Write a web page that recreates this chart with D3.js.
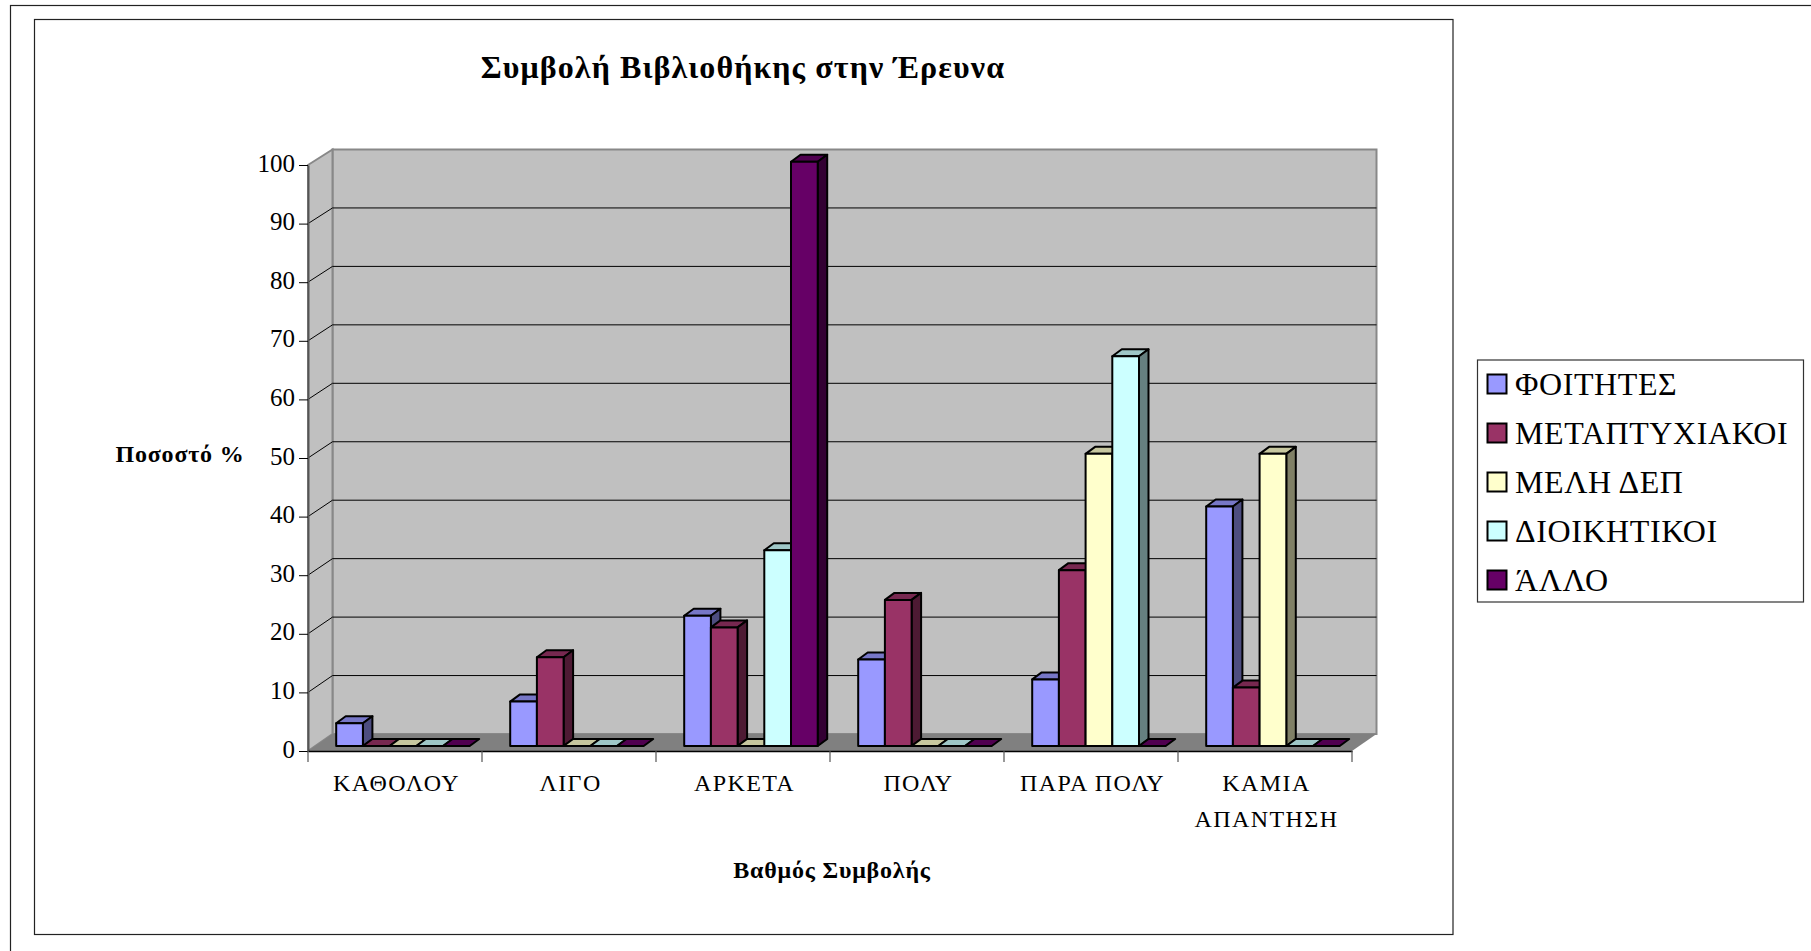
<!DOCTYPE html>
<html>
<head>
<meta charset="utf-8">
<script src="https://cdn.jsdelivr.net/npm/d3@7"></script>
<style>
    html, body { margin: 0; padding: 0; background: #fff; overflow: hidden; }
    svg { display: block; }
    text { font-family: "Liberation Serif", serif; fill: #000; }
</style>
</head>
<body>
<script>
var categories = [['ΚΑΘΟΛΟΥ'], ['ΛΙΓΟ'], ['ΑΡΚΕΤΑ'], ['ΠΟΛΥ'], ['ΠΑΡΑ ΠΟΛΥ'], ['ΚΑΜΙΑ', 'ΑΠΑΝΤΗΣΗ']];
var seriesNames = ['ΦΟΙΤΗΤΕΣ', 'ΜΕΤΑΠΤΥΧΙΑΚΟΙ', 'ΜΕΛΗ ΔΕΠ', 'ΔΙΟΙΚΗΤΙΚΟΙ', 'ΆΛΛΟ'];
var seriesColors = ['#9999ff', '#993366', '#ffffcc', '#ccffff', '#660066'];

var foitites = [3.9, 7.6, 22.3, 14.8, 11.4, 41];
var metaptyxiakoi = [0, 15.2, 20.3, 25, 30.1, 10];
var meliDep = [0, 0, 0, 0, 50, 50];
var dioikitikoi = [0, 0, 33.5, 0, 66.7, 0];
var allo = [0, 0, 100, 0, 0, 0];
var seriesValues = [foitites, metaptyxiakoi, meliDep, dioikitikoi, allo];

var yTicks = d3.range(0, 101, 10);

var width = 1811, height = 951;
var svg = d3.select('body').append('svg').attr('width', width).attr('height', height);

// Frames (the outer one runs off the page on the right and at the bottom)
svg.append('rect')
    .attr('x', 10.5).attr('y', 5.5).attr('width', 1830).attr('height', 980)
    .attr('fill', 'none').attr('stroke', '#222').attr('stroke-width', 1.2);
svg.append('rect')
    .attr('x', 34.5).attr('y', 19.5).attr('width', 1418.5).attr('height', 915)
    .attr('fill', '#fff').attr('stroke', '#222').attr('stroke-width', 1.2);

// Scales: front plane, back wall, bar fronts
var x = d3.scaleBand().domain(d3.range(categories.length)).range([308, 1352]);
var yFront = d3.scaleLinear().domain([0, 100]).range([751, 165]);
var yBack = d3.scaleLinear().domain([0, 100]).range([734, 149.5]);
var yBar = d3.scaleLinear().domain([0, 100]).range([746, 161.7]);
var depth = 24.5;
var barW = 26.7, barDx = 9.5, barDy = 7, barInset = 28.2;

var poly = pts => pts.map(p => p.join(',')).join(' ');
var x0 = x.range()[0], x1 = x.range()[1];

// Walls and floor
svg.append('polygon')
    .attr('points', poly([[x0 + depth, yBack(100)], [x1 + depth, yBack(100)], [x1 + depth, yBack(0)], [x0 + depth, yBack(0)]]))
    .attr('fill', '#c0c0c0').attr('stroke', '#888').attr('stroke-width', 2);
svg.append('polygon')
    .attr('points', poly([[x0, yFront(100)], [x0 + depth, yBack(100)], [x0 + depth, yBack(0)], [x0, yFront(0)]]))
    .attr('fill', '#c0c0c0').attr('stroke', '#888').attr('stroke-width', 2);
svg.append('polygon')
    .attr('points', poly([[x0, yFront(0)], [x0 + depth, yBack(0)], [x1 + depth, yBack(0)], [x1, yFront(0)]]))
    .attr('fill', '#808080');

// Gridlines
var grid = svg.append('g').attr('class', 'grid');
grid.selectAll('path')
    .data(yTicks.filter(d => d > 0 && d < 100))
    .enter().append('path')
    .attr('d', d => `M${ x0 },${ yFront(d) }L${ x0 + depth },${ yBack(d) }L${ x1 + depth },${ yBack(d) }`)
    .attr('fill', 'none').attr('stroke', '#000').attr('stroke-width', 1);

// Bars, left to right so that each one covers its neighbour's side
var bars = [];
categories.forEach((c, i) => {
    seriesValues.forEach((vals, s) => bars.push({ cat: i, s: s, v: vals[i] }));
});

svg.append('g').attr('class', 'bars').selectAll('g')
    .data(bars)
    .enter().append('g')
    .attr('stroke', '#000').attr('stroke-width', 2).attr('stroke-linejoin', 'round')
    .each(function (d) {
        var el = d3.select(this);
        var color = d3.color(seriesColors[d.s]);
        var left = x(d.cat) + barInset + d.s * barW, right = left + barW;
        var top = yBar(d.v), base = yBar(0);

        var shade = k => d3.rgb(color.r * k, color.g * k, color.b * k).formatHex();

        el.append('polygon')
            .attr('points', poly([[left, top], [left + barDx, top - barDy], [right + barDx, top - barDy], [right, top]]))
            .attr('fill', shade(0.78));
        if (d.v > 0) {
            el.append('polygon')
                .attr('points', poly([[right, top], [right + barDx, top - barDy], [right + barDx, base - barDy], [right, base]]))
                .attr('fill', shade(0.5));
            el.append('rect')
                .attr('x', left).attr('y', top).attr('width', barW).attr('height', base - top)
                .attr('fill', seriesColors[d.s]);
        }
    });

// Y axis
var yAxis = d3.axisLeft(yFront).tickValues(yTicks).tickSize(9).tickSizeOuter(0).tickPadding(4);
var yG = svg.append('g').attr('transform', `translate(${ x0 },0)`).call(yAxis);
yG.select('.domain').attr('stroke', '#555').attr('stroke-width', 2);
yG.selectAll('.tick line').attr('stroke', '#000');
yG.selectAll('.tick text')
    .style('font-family', '"Liberation Serif", serif')
    .style('font-size', '25px')
    .attr('y', -2)
    .attr('fill', '#000');

// X axis
var xAxis = d3.axisBottom(x).tickValues([]).tickSize(0).tickSizeOuter(0);
var xG = svg.append('g').attr('transform', `translate(0,${ yFront(0) })`).call(xAxis);
xG.select('.domain').attr('stroke', '#000').attr('stroke-width', 1.5);
xG.selectAll('line.sep')
    .data(d3.range(categories.length + 1))
    .enter().append('line')
    .attr('class', 'sep')
    .attr('x1', d => x0 + d * x.step()).attr('x2', d => x0 + d * x.step())
    .attr('y1', 0).attr('y2', 11)
    .attr('stroke', '#555').attr('stroke-width', 1.2);

var catLabels = svg.append('g').selectAll('text')
    .data(categories)
    .enter().append('text')
    .attr('text-anchor', 'middle')
    .style('font-size', '24px')
    .style('letter-spacing', '1.4px')
    .attr('transform', (d, i) => `translate(${ x(i) + x.bandwidth() / 2 + 1.5 },0)`);
catLabels.selectAll('tspan')
    .data(d => d)
    .enter().append('tspan')
    .attr('x', 0)
    .attr('y', (d, i) => 791 + i * 36)
    .text(d => d);

// Titles
svg.append('text').attr('x', 743).attr('y', 78).attr('text-anchor', 'middle')
    .style('font-size', '32px').style('font-weight', 'bold').style('letter-spacing', '1.1px')
    .text('Συμβολή Βιβλιοθήκης στην Έρευνα');
svg.append('text').attr('x', 180).attr('y', 462).attr('text-anchor', 'middle')
    .style('font-size', '24px').style('font-weight', 'bold').style('letter-spacing', '0.8px')
    .text('Ποσοστό %');
svg.append('text').attr('x', 832).attr('y', 878).attr('text-anchor', 'middle')
    .style('font-size', '24px').style('font-weight', 'bold').style('letter-spacing', '0.8px')
    .text('Βαθμός Συμβολής');

// Legend
var legend = svg.append('g').attr('class', 'legend');
legend.append('rect')
    .attr('x', 1477.5).attr('y', 360).attr('width', 326).attr('height', 242)
    .attr('fill', '#fff').attr('stroke', '#333').attr('stroke-width', 1.2);

var legendY = d3.scalePoint().domain(seriesNames).range([384, 580]);
var items = legend.selectAll('g.item')
    .data(seriesNames)
    .enter().append('g')
    .attr('class', 'item')
    .attr('transform', d => `translate(0,${ legendY(d) })`);
items.append('rect')
    .attr('x', 1487.5).attr('y', -9.5).attr('width', 19).attr('height', 19)
    .attr('fill', (d, i) => seriesColors[i])
    .attr('stroke', '#000').attr('stroke-width', 2);
items.append('text')
    .attr('x', 1515).attr('y', 11)
    .style('font-size', '32px')
    .style('letter-spacing', '0.6px')
    .text(d => d);
</script>
</body>
</html>
